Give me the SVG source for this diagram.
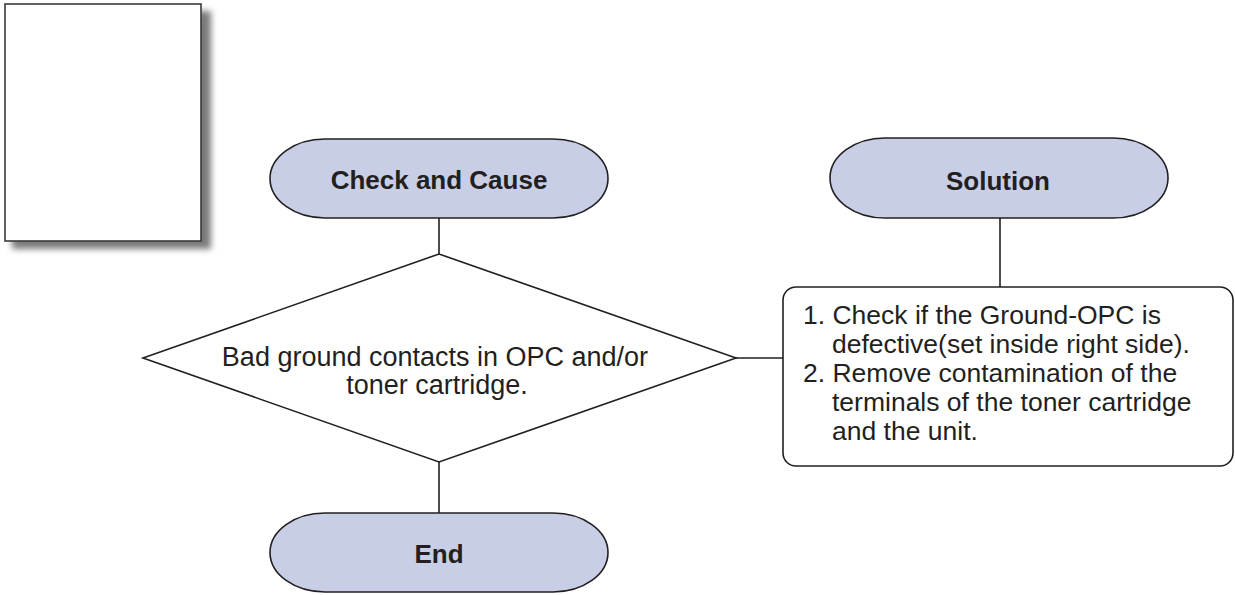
<svg xmlns="http://www.w3.org/2000/svg" width="1235" height="595" viewBox="0 0 1235 595">
<defs>
<style>
.term{fill:#c9cee7;stroke:#231f20;stroke-width:1.6}
.shape{fill:#ffffff;stroke:#231f20;stroke-width:1.6}
.conn{stroke:#231f20;stroke-width:1.6;fill:none}
.bold{font-family:"Liberation Sans",Arial,sans-serif;font-weight:bold;font-size:26px;fill:#231f20;text-anchor:middle}
.txt{font-family:"Liberation Sans",Arial,sans-serif;font-size:27px;fill:#231f20}
.lst{font-family:"Liberation Sans",Arial,sans-serif;font-size:26.5px;fill:#231f20}
</style>
<filter id="sh" x="-20%" y="-20%" width="140%" height="140%">
<feGaussianBlur stdDeviation="3"/>
</filter>
</defs>
<g id="page">
<rect x="12" y="11" width="199" height="238" fill="#7a7a7a" filter="url(#sh)"/>
<rect x="5" y="4" width="196" height="237" fill="#ffffff" stroke="#3a3a3a" stroke-width="1.6"/>
</g>
<g id="connectors">
<line class="conn" x1="439" y1="218" x2="439" y2="254"/>
<line class="conn" x1="439" y1="462" x2="439" y2="513"/>
<line class="conn" x1="736" y1="358" x2="783" y2="358"/>
<line class="conn" x1="1000" y1="218" x2="1000" y2="287"/>
</g>
<g id="check-and-cause">
<rect class="term" x="270" y="139" width="338" height="79" rx="55" ry="39.5"/>
<text class="bold" x="439" y="189">Check and Cause</text>
</g>
<g id="solution">
<rect class="term" x="830" y="138" width="338" height="80" rx="55" ry="40"/>
<text class="bold" x="998" y="190">Solution</text>
</g>
<g id="decision">
<polygon class="shape" points="143,358 439,254 736,358 439,462"/>
<text class="txt" x="435" y="366" text-anchor="middle">Bad ground contacts in OPC and/or</text>
<text class="txt" x="437" y="394" text-anchor="middle">toner cartridge.</text>
</g>
<g id="solution-box">
<rect class="shape" x="783" y="287" width="450" height="179" rx="13" ry="13"/>
<text class="lst" x="803" y="324">1. Check if the Ground-OPC is</text>
<text class="lst" x="832" y="353">defective(set inside right side).</text>
<text class="lst" x="803" y="382">2. Remove contamination of the</text>
<text class="lst" x="832" y="411">terminals of the toner cartridge</text>
<text class="lst" x="832" y="440">and the unit.</text>
</g>
<g id="end">
<rect class="term" x="270" y="513" width="338" height="79" rx="55" ry="39.5"/>
<text class="bold" x="439" y="563">End</text>
</g>
</svg>
